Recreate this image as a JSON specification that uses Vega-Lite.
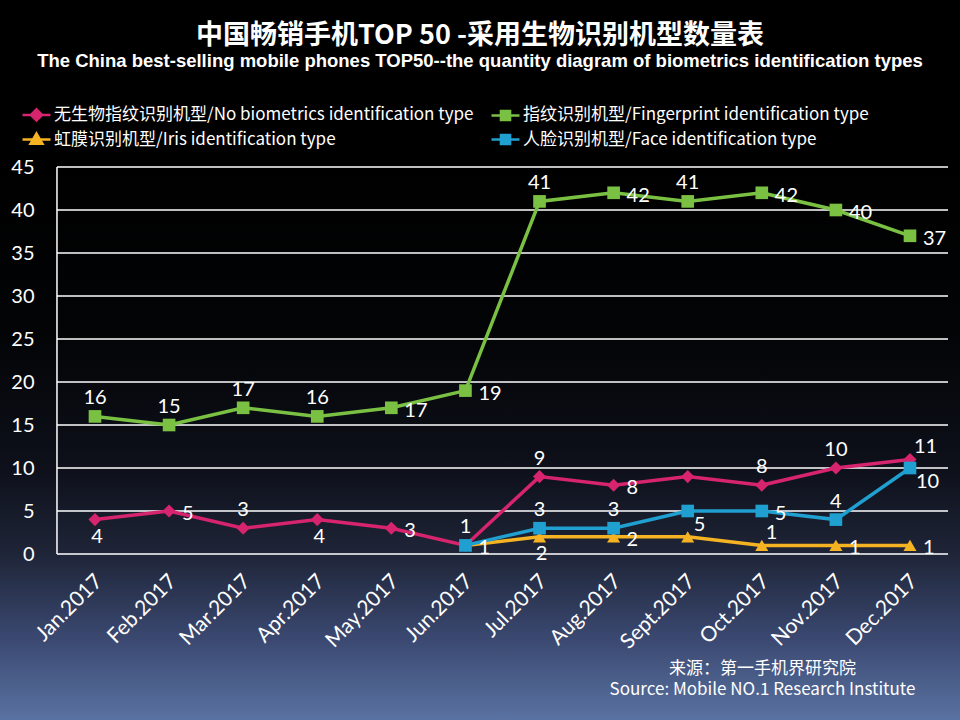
{
  "$schema": "https://vega.github.io/schema/vega-lite/v6.json",
  "width": 960,
  "height": 553,
  "autosize": {"type": "none"},
  "padding": {"left": 0, "top": 167, "right": 0, "bottom": 0},
  "background": "#000000",
  "config": {
    "view": {
      "stroke": null,
      "fill": {
        "gradient": "linear",
        "x1": 0, "y1": 0, "x2": 0, "y2": 1,
        "stops": [
          {"offset": 0, "color": "#000000"},
          {"offset": 0.3, "color": "#030406"},
          {"offset": 0.55, "color": "#0e111b"},
          {"offset": 0.7, "color": "#1f2538"},
          {"offset": 0.85, "color": "#3a4870"},
          {"offset": 1, "color": "#5a72a2"}
        ]
      }
    }
  },
  "title": {
    "text": "中国畅销手机TOP 50 -采用生物识别机型数量表",
    "subtitle": "The China best-selling mobile phones TOP50--the quantity diagram of biometrics identification types",
    "anchor": "middle",
    "frame": "group",
    "offset": 35,
    "font": "Noto Sans CJK SC",
    "fontSize": 27,
    "fontWeight": "bold",
    "color": "#ffffff",
    "subtitleFont": "Liberation Sans",
    "subtitleFontSize": 18.5,
    "subtitleFontWeight": "bold",
    "subtitleColor": "#ffffff",
    "subtitlePadding": 2
  },
  "datasets": {
    "grid": [
      {"level": 0}, {"level": 5}, {"level": 10}, {"level": 15}, {"level": 20},
      {"level": 25}, {"level": 30}, {"level": 35}, {"level": 40}, {"level": 45}
    ],
    "frame": [{"from": 0, "to": 45}],
    "phones": [
      {"series": "无生物指纹识别机型/No biometrics identification type", "m": 1, "value": 4},
      {"series": "无生物指纹识别机型/No biometrics identification type", "m": 2, "value": 5},
      {"series": "无生物指纹识别机型/No biometrics identification type", "m": 3, "value": 3},
      {"series": "无生物指纹识别机型/No biometrics identification type", "m": 4, "value": 4},
      {"series": "无生物指纹识别机型/No biometrics identification type", "m": 5, "value": 3},
      {"series": "无生物指纹识别机型/No biometrics identification type", "m": 6, "value": 1},
      {"series": "无生物指纹识别机型/No biometrics identification type", "m": 7, "value": 9},
      {"series": "无生物指纹识别机型/No biometrics identification type", "m": 8, "value": 8},
      {"series": "无生物指纹识别机型/No biometrics identification type", "m": 9, "value": 9},
      {"series": "无生物指纹识别机型/No biometrics identification type", "m": 10, "value": 8},
      {"series": "无生物指纹识别机型/No biometrics identification type", "m": 11, "value": 10},
      {"series": "无生物指纹识别机型/No biometrics identification type", "m": 12, "value": 11},
      {"series": "指纹识别机型/Fingerprint identification type", "m": 1, "value": 16},
      {"series": "指纹识别机型/Fingerprint identification type", "m": 2, "value": 15},
      {"series": "指纹识别机型/Fingerprint identification type", "m": 3, "value": 17},
      {"series": "指纹识别机型/Fingerprint identification type", "m": 4, "value": 16},
      {"series": "指纹识别机型/Fingerprint identification type", "m": 5, "value": 17},
      {"series": "指纹识别机型/Fingerprint identification type", "m": 6, "value": 19},
      {"series": "指纹识别机型/Fingerprint identification type", "m": 7, "value": 41},
      {"series": "指纹识别机型/Fingerprint identification type", "m": 8, "value": 42},
      {"series": "指纹识别机型/Fingerprint identification type", "m": 9, "value": 41},
      {"series": "指纹识别机型/Fingerprint identification type", "m": 10, "value": 42},
      {"series": "指纹识别机型/Fingerprint identification type", "m": 11, "value": 40},
      {"series": "指纹识别机型/Fingerprint identification type", "m": 12, "value": 37},
      {"series": "虹膜识别机型/Iris identification type", "m": 6, "value": 1},
      {"series": "虹膜识别机型/Iris identification type", "m": 7, "value": 2},
      {"series": "虹膜识别机型/Iris identification type", "m": 8, "value": 2},
      {"series": "虹膜识别机型/Iris identification type", "m": 9, "value": 2},
      {"series": "虹膜识别机型/Iris identification type", "m": 10, "value": 1},
      {"series": "虹膜识别机型/Iris identification type", "m": 11, "value": 1},
      {"series": "虹膜识别机型/Iris identification type", "m": 12, "value": 1},
      {"series": "人脸识别机型/Face identification type", "m": 6, "value": 1},
      {"series": "人脸识别机型/Face identification type", "m": 7, "value": 3},
      {"series": "人脸识别机型/Face identification type", "m": 8, "value": 3},
      {"series": "人脸识别机型/Face identification type", "m": 9, "value": 5},
      {"series": "人脸识别机型/Face identification type", "m": 10, "value": 5},
      {"series": "人脸识别机型/Face identification type", "m": 11, "value": 4},
      {"series": "人脸识别机型/Face identification type", "m": 12, "value": 10}
    ]
  },
  "layer": [
    {
      "data": {"name": "grid"},
      "mark": {"type": "rule", "color": "#ffffff", "strokeWidth": 1.5},
      "encoding": {
        "y": {"field": "level", "type": "quantitative", "title": null},
        "x": {"datum": 0.487, "type": "quantitative"},
        "x2": {"datum": 12.513}
      }
    },
    {
      "data": {"name": "frame"},
      "mark": {"type": "rule", "color": "#ffffff", "strokeWidth": 1.5},
      "encoding": {
        "x": {"datum": 0.487, "type": "quantitative"},
        "y": {"field": "from", "type": "quantitative", "title": null},
        "y2": {"field": "to"}
      }
    },
    {
      "data": {"name": "phones"},
      "mark": {"type": "line", "strokeWidth": 3.5},
      "encoding": {
        "x": {
          "field": "m",
          "type": "quantitative",
          "scale": {"domain": [-0.282, 12.675], "nice": false, "zero": false},
          "axis": {
            "values": [1, 2, 3, 4, 5, 6, 7, 8, 9, 10, 11, 12],
            "labelExpr": "['Jan.2017','Feb.2017','Mar.2017','Apr.2017','May.2017','Jun.2017','Jul.2017','Aug.2017','Sept.2017','Oct.2017','Nov.2017','Dec.2017'][datum.value - 1]",
            "offset": -166,
            "domain": false,
            "ticks": false,
            "grid": false,
            "labelAngle": -45,
            "labelAlign": "right",
            "labelBaseline": "top",
            "labelPadding": 16,
            "labelOffset": -4,
            "labelFont": "Lato",
            "labelFontSize": 21,
            "labelColor": "#ffffff",
            "labelOverlap": false,
            "title": ["来源：第一手机界研究院", "Source: Mobile NO.1 Research Institute"],
            "titleFont": "Noto Sans CJK SC",
            "titleFontSize": 17,
            "titleFontWeight": "normal",
            "titleColor": "#ffffff",
            "titleAlign": "center",
            "titleBaseline": "top",
            "titleLineHeight": 21,
            "titleX": 762,
            "titleY": 106
          }
        },
        "y": {
          "field": "value",
          "type": "quantitative",
          "scale": {"domain": [-19.3, 45], "nice": false, "zero": false},
          "axis": {
            "values": [0, 5, 10, 15, 20, 25, 30, 35, 40, 45],
            "offset": -57,
            "domain": false,
            "ticks": false,
            "grid": false,
            "labelPadding": 23,
            "labelFont": "Lato",
            "labelFontSize": 20,
            "labelColor": "#ffffff"
          },
          "title": null
        },
        "color": {
          "field": "series",
          "type": "nominal",
          "scale": {
            "domain": [
              "无生物指纹识别机型/No biometrics identification type",
              "指纹识别机型/Fingerprint identification type",
              "虹膜识别机型/Iris identification type",
              "人脸识别机型/Face identification type"
            ],
            "range": ["#d6246e", "#7ac143", "#f5b324", "#1fa0d0"]
          },
          "legend": {
            "orient": "none",
            "legendX": 28,
            "legendY": -61,
            "direction": "horizontal",
            "columns": 2,
            "columnPadding": 12,
            "rowPadding": 2,
            "padding": 0,
            "title": null,
            "symbolSize": 196,
            "symbolStrokeWidth": 2.5,
            "labelOffset": 9,
            "labelLimit": 600,
            "labelFont": "Noto Sans CJK SC",
            "labelFontSize": 17,
            "labelColor": "#ffffff",
            "encode": {
              "symbols": {
                "update": {
                  "shape": {"signal": "datum.value[0] === '无' ? 'M-2,0H2M0,-0.8L0.8,0L0,0.8L-0.8,0Z' : datum.value[0] === '虹' ? 'M-2,0H2M0,-0.85L0.85,0.6H-0.85Z' : 'M-2,0H2M-0.65,-0.65H0.65V0.65H-0.65Z'"},
                  "fill": {"scale": "color", "field": "value"},
                  "stroke": {"scale": "color", "field": "value"},
                  "strokeWidth": {"value": 2.5},
                  "opacity": {"value": 1}
                }
              }
            }
          }
        }
      }
    },
    {
      "data": {"name": "phones"},
      "transform": [{"filter": "datum.series[0] === '无'"}],
      "mark": {"type": "point", "shape": "diamond", "filled": true, "opacity": 1, "size": 170},
      "encoding": {
        "x": {"field": "m", "type": "quantitative"},
        "y": {"field": "value", "type": "quantitative", "title": null},
        "color": {"field": "series", "type": "nominal"}
      }
    },
    {
      "data": {"name": "phones"},
      "transform": [{"filter": "datum.series[0] === '虹'"}],
      "mark": {"type": "point", "shape": "triangle-up", "filled": true, "opacity": 1, "size": 170},
      "encoding": {
        "x": {"field": "m", "type": "quantitative"},
        "y": {"field": "value", "type": "quantitative", "title": null},
        "color": {"field": "series", "type": "nominal"}
      }
    },
    {
      "data": {"name": "phones"},
      "transform": [{"filter": "datum.series[0] === '指' || datum.series[0] === '人'"}],
      "mark": {"type": "point", "shape": "square", "filled": true, "opacity": 1, "size": 160},
      "encoding": {
        "x": {"field": "m", "type": "quantitative"},
        "y": {"field": "value", "type": "quantitative", "title": null},
        "color": {"field": "series", "type": "nominal"}
      }
    },
    {
      "data": {"name": "phones"},
      "transform": [{"filter": "indexof(['指1','指2','指3','指4','指7','指9','无3','无6','无7','无10','无11','人7','人8','人11'], datum.series[0] + datum.m) >= 0"}],
      "mark": {"type": "text", "font": "Lato", "fontSize": 20, "color": "#ffffff", "align": "center", "baseline": "middle", "dy": -18},
      "encoding": {
        "x": {"field": "m", "type": "quantitative"},
        "y": {"field": "value", "type": "quantitative", "title": null},
        "text": {"field": "value", "type": "quantitative"}
      }
    },
    {
      "data": {"name": "phones"},
      "transform": [{"filter": "indexof(['指5','指6','指8','指10','指11','指12','无2','无5','无8','人10','虹6','虹8','虹11','虹12'], datum.series[0] + datum.m) >= 0"}],
      "mark": {"type": "text", "font": "Lato", "fontSize": 20, "color": "#ffffff", "align": "left", "baseline": "middle", "dx": 13, "dy": 3},
      "encoding": {
        "x": {"field": "m", "type": "quantitative"},
        "y": {"field": "value", "type": "quantitative", "title": null},
        "text": {"field": "value", "type": "quantitative"}
      }
    },
    {
      "data": {"name": "phones"},
      "transform": [{"filter": "indexof(['无1','无4','虹7'], datum.series[0] + datum.m) >= 0"}],
      "mark": {"type": "text", "font": "Lato", "fontSize": 20, "color": "#ffffff", "align": "center", "baseline": "middle", "dx": 2, "dy": 17},
      "encoding": {
        "x": {"field": "m", "type": "quantitative"},
        "y": {"field": "value", "type": "quantitative", "title": null},
        "text": {"field": "value", "type": "quantitative"}
      }
    },
    {
      "data": {"name": "phones"},
      "transform": [{"filter": "indexof(['人9','人12'], datum.series[0] + datum.m) >= 0"}],
      "mark": {"type": "text", "font": "Lato", "fontSize": 20, "color": "#ffffff", "align": "left", "baseline": "middle", "dx": 6, "dy": 14},
      "encoding": {
        "x": {"field": "m", "type": "quantitative"},
        "y": {"field": "value", "type": "quantitative", "title": null},
        "text": {"field": "value", "type": "quantitative"}
      }
    },
    {
      "data": {"name": "phones"},
      "transform": [{"filter": "indexof(['无12','虹10'], datum.series[0] + datum.m) >= 0"}],
      "mark": {"type": "text", "font": "Lato", "fontSize": 20, "color": "#ffffff", "align": "left", "baseline": "middle", "dx": 4, "dy": -12},
      "encoding": {
        "x": {"field": "m", "type": "quantitative"},
        "y": {"field": "value", "type": "quantitative", "title": null},
        "text": {"field": "value", "type": "quantitative"}
      }
    }
  ]
}
